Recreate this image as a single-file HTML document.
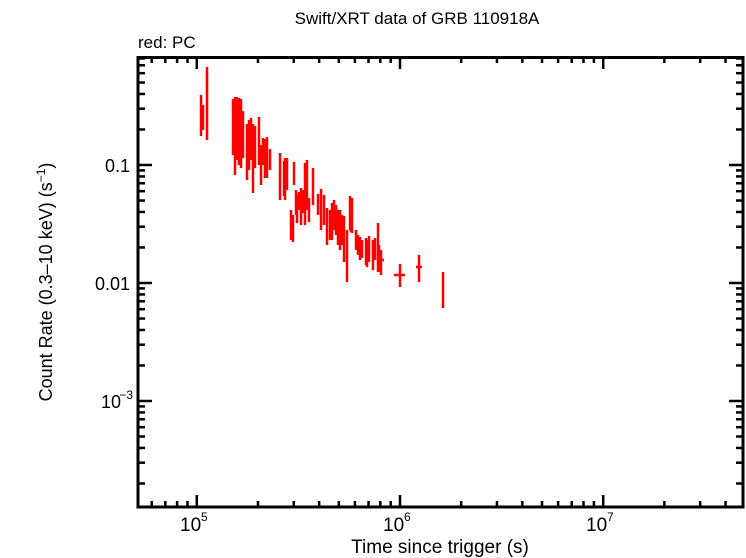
<!DOCTYPE html><html><head><style>body{margin:0;background:#fff}svg{display:block}text{font-family:"Liberation Sans",sans-serif;fill:#000}</style></head><body>
<svg width="746" height="558" viewBox="0 0 746 558">
<text x="417" y="24" font-size="17" text-anchor="middle">Swift/XRT data of GRB 110918A</text>
<text x="138" y="48" font-size="17">red: PC</text>
<text transform="translate(52,282) rotate(-90)" font-size="18" text-anchor="middle">Count Rate (0.3–10 keV) (s<tspan font-size="12" dy="-7">−1</tspan><tspan dy="7">)</tspan></text>
<text x="440" y="553" font-size="19" text-anchor="middle">Time since trigger (s)</text>
<g font-size="18" text-anchor="end">
<text x="130" y="172">0.1</text><text x="130" y="290">0.01</text>
<text x="121" y="408">10</text><text x="133" y="399" font-size="12">−3</text>
</g>
<g font-size="19">
<text x="180" y="531">10</text><text x="201" y="521" font-size="12">5</text>
<text x="383" y="531">10</text><text x="404" y="521" font-size="12">6</text>
<text x="586" y="531">10</text><text x="607" y="521" font-size="12">7</text>
</g>
<g id="t" stroke="#000" stroke-width="2.5"></g>
<g stroke="red" stroke-width="2.5" id="d"></g>
<rect x="138" y="57.5" width="605" height="449.5" fill="none" stroke="#000" stroke-width="3"/>
</svg>
<script>
var t=document.getElementById('t'),s='';
function L(a,b,c,d){s+='<line x1="'+a+'" y1="'+b+'" x2="'+c+'" y2="'+d+'"/>';}
var x0=196.8,dx=203.2;
for(var e=4;e<=7;e++)for(var m=1;m<10;m++){var x=x0+(e-5+Math.log10(m))*dx;if(x<139||x>742)continue;var l=m==1?12:6;L(x,507,x,507-l);L(x,57,x,57+l);}
var y0=165,dy=118;
for(var e=-4;e<=0;e++)for(var m=1;m<10;m++){var y=y0-(e+1+Math.log10(m))*dy;if(y<58||y>506)continue;var l=m==1?14:7;L(138,y,138+l,y);L(743,y,743-l,y);}
t.innerHTML=s;s='';
var p=[[201,95,136],[203,105,130],[207,67,140],[233,99,155],[235,97,175],[237,97,160],[239,98,165],[241,99,168],[243,111,158],[247,124,180],[249,120,170],[251,118,160],[253,124,193],[255,126,168],[259,117,165],[261,145,185],[263,138,165],[265,139,178],[267,137,178],[270,149,170],[280,153,200],[284,161,196],[285,158,200],[287,158,190],[294,162,185],[291,210,240],[293,215,242],[296,190,215],[297,195,223],[299,192,210],[301,188,225],[303,190,213],[305,163,225],[307,160,210],[309,198,222],[313,168,205],[318,194,215],[321,189,230],[324,195,225],[327,208,245],[330,210,240],[332,203,240],[334,200,230],[336,205,235],[338,210,245],[340,210,250],[342,215,245],[344,216,262],[347,230,282],[350,196,230],[351,202,232],[352,198,233],[356,230,250],[358,235,255],[360,237,260],[362,240,258],[366,238,265],[367,240,267],[369,236,262],[373,240,270],[375,238,260],[378,223,272],[379,245,272],[381,250,275],[400,264,287],[419,255,282],[443,272,308]];
p.forEach(function(q){L(q[0],q[1],q[0],q[2]);});
L(394,275,405,275);L(416,267,422,267);L(377,260,384,260);
document.getElementById('d').innerHTML=s;
</script>
</body></html>
